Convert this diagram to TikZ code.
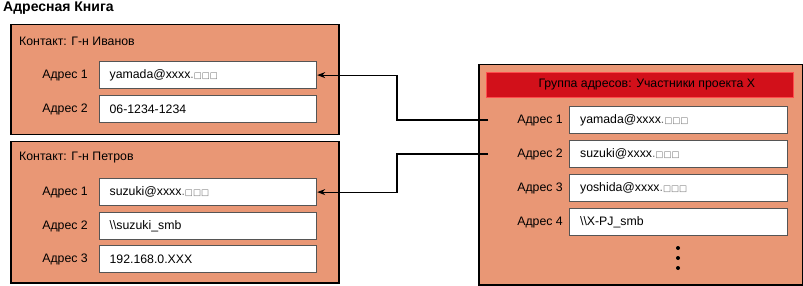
\documentclass[tikz,border=0pt]{standalone}
\usepackage{fontspec}
\setmainfont{Liberation Sans}
\newfontfamily\symfont{DejaVu Sans}
\usepackage{tikz}
\usetikzlibrary{arrows.meta,positioning,calc}
\definecolor{bookfill}{RGB}{233,151,117}
\definecolor{grouphead}{RGB}{210,16,26}
\definecolor{fieldline}{RGB}{85,85,85}
\definecolor{maskgray}{RGB}{110,110,110}
\newcommand{\boxfont}{\fontsize{12.3}{14}\selectfont}
\newcommand{\masked}{{\color{maskgray}.{\symfont\fontsize{8.5}{10}\selectfont □□□}}}
\tikzset{
    bookbox/.style={draw=black, line width=1.5pt, fill=bookfill, inner sep=0pt, anchor=north west},
    headbox/.style={draw=red!70!white, line width=0.6pt, fill=grouphead, inner sep=0pt, anchor=north west, font=\boxfont},
    field/.style={draw=fieldline, line width=1.2pt, fill=white, minimum width=217pt, minimum height=27pt,
                  text width=197pt, inner xsep=10pt, inner ysep=0pt, align=left, anchor=north west, font=\boxfont},
    fieldlabel/.style={inner sep=0pt, font=\boxfont},
    caption/.style={anchor=west, inner sep=0pt, font=\boxfont},
    conn/.style={line width=1.1pt, -{Stealth[length=8pt,width=6pt]}},
}

\begin{document}
\begin{tikzpicture}[x=1pt, y=-1pt]
    \useasboundingbox (0,0) rectangle (803,286);
    \node[anchor=west, inner sep=0pt, font=\fontsize{14}{16}\selectfont\bfseries] (book) at (3,8) {Адресная Книга};

    % Contact 1
    \node[bookbox, minimum width=328pt, minimum height=110pt] (c1) at (10,24) {};
    \node[caption] (c1name) at (19,41) {Контакт: Г-н Иванов};
    \foreach \y/\n/\val in {61/1/{yamada@xxxx\masked}, 95/2/{06-1234-1234}} {
        \node[field] (i\n) at (99,\y) {\val};
        \node[fieldlabel, left=11pt of i\n] (il\n) {Адрес \n};
    }

    % Contact 2
    \node[bookbox, minimum width=328pt, minimum height=141pt] (c2) at (10,141) {};
    \node[caption] (c2name) at (19,158) {Контакт: Г-н Петров};
    \foreach \y/\n/\val in {178/1/{suzuki@xxxx\masked}, 212/2/{\textbackslash\textbackslash suzuki\_smb}, 245/3/{192.168.0.XXX}} {
        \node[field] (p\n) at (99,\y) {\val};
        \node[fieldlabel, left=11pt of p\n] (pl\n) {Адрес \n};
    }

    % Address group
    \node[bookbox, minimum width=324pt, minimum height=220pt] (grp) at (478,64) {};
    \node[headbox, minimum width=307pt, minimum height=25pt] (grphead) at (486,72) {\hspace*{14pt}Группа адресов: Участники проекта X};
    \foreach \y/\n/\val in {106/1/{yamada@xxxx\masked}, 140/2/{suzuki@xxxx\masked}, 174/3/{yoshida@xxxx\masked}, 208/4/{\textbackslash\textbackslash X-PJ\_smb}} {
        \node[field, minimum width=218pt] (g\n) at (569,\y) {\val};
        \node[fieldlabel, left=6pt of g\n] (gl\n) {Адрес \n};
    }
    \foreach \y in {248,258,268} {
        \fill (678,\y) circle (2pt);
    }

    % Links
    \coordinate (g1s) at (488,120);
    \coordinate (g2s) at (488,154);
    \coordinate (jn) at (397,0);
    \draw[conn] (g1s) -- (g1s -| jn) |- (i1.east);
    \draw[conn] (g2s) -- (g2s -| jn) |- (p1.east);
\end{tikzpicture}
\end{document}
